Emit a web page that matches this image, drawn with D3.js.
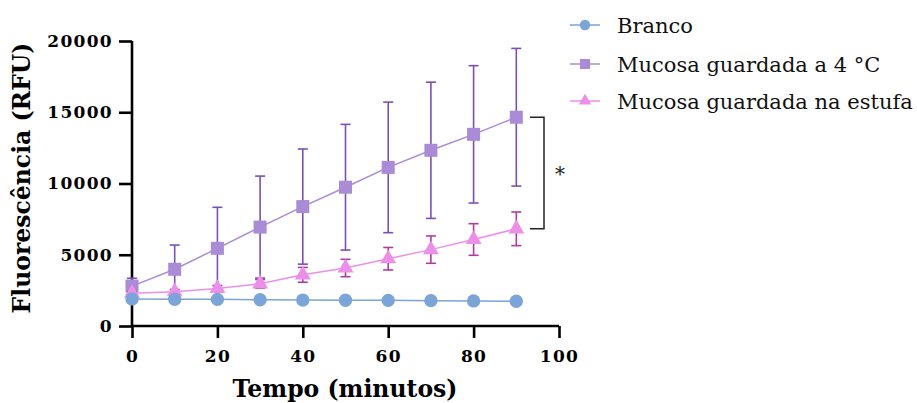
<!DOCTYPE html>
<html>
<head>
<meta charset="utf-8">
<script src="https://cdn.jsdelivr.net/npm/d3@7"></script>
<style>
  html, body { margin: 0; padding: 0; background: #fff; }
  svg { display: block; }
</style>
</head>
<body>
<svg id="chart" width="917" height="403"></svg>
<script>
const times = [0, 10, 20, 30, 40, 50, 60, 70, 80, 90];
const brancoMean = [1900, 1880, 1870, 1840, 1820, 1810, 1800, 1780, 1760, 1740];
const brancoSD   = [40, 40, 40, 40, 40, 40, 40, 40, 40, 40];
const frioMean = [2800, 3980, 5450, 6940, 8380, 9740, 11130, 12330, 13450, 14650];
const frioSD   = [550, 1700, 2880, 3580, 4040, 4410, 4580, 4780, 4820, 4830];
const estufaMean = [2300, 2410, 2640, 2960, 3590, 4070, 4720, 5360, 6070, 6820];
const estufaSD   = [100, 150, 200, 300, 520, 610, 790, 960, 1110, 1180];
const seriesNames = ["Branco", "Mucosa guardada a 4 °C", "Mucosa guardada na estufa"];
const xTicks = [0, 20, 40, 60, 80, 100];
const yTicks = [0, 5000, 10000, 15000, 20000];
const xTitle = "Tempo (minutos)";
const yTitle = "Fluorescência (RFU)";
const sigLabel = "*";

const svg = d3.select("#chart");
const x = d3.scaleLinear().domain([0, 100]).range([132, 559]);
const y = d3.scaleLinear().domain([0, 20000]).range([326, 41]);
const serif = "'DejaVu Serif', 'Liberation Serif', serif";

const series = [
  {name: seriesNames[1], mean: frioMean, sd: frioSD, fill: "#a98bd6", line: "#a98bd6", err: "#7a50b8", shape: d3.symbolSquare, size: 170},
  {name: seriesNames[2], mean: estufaMean, sd: estufaSD, fill: "#ec8fe8", line: "#ec8fe8", err: "#b03c9e", shape: d3.symbolTriangle, size: 110},
  {name: seriesNames[0], mean: brancoMean, sd: brancoSD, fill: "#7ba4d8", line: "#7ba4d8", err: "#7ba4d8", shape: d3.symbolCircle, size: 140, noErr: true}
];

// Axes
const xAxis = svg.append("g").attr("transform", `translate(0,${y(0)})`)
  .call(d3.axisBottom(x).tickValues(xTicks).tickSize(12).tickPadding(12).tickFormat(d3.format("d")));
const yAxis = svg.append("g").attr("transform", `translate(${x(0)},0)`)
  .call(d3.axisLeft(y).tickValues(yTicks).tickSize(13).tickPadding(6).tickFormat(d3.format("d")));
[xAxis, yAxis].forEach(g => {
  g.select(".domain").attr("stroke", "#000").attr("stroke-width", 2.6);
  g.selectAll(".tick line").attr("stroke", "#000").attr("stroke-width", 2.6);
  g.selectAll(".tick text").attr("fill", "#000").attr("font-family", serif)
    .attr("font-weight", "bold").attr("font-size", 17).attr("letter-spacing", "1.3px");
});
xAxis.select(".domain").attr("d", `M${x(0)},0H${x(100)}`);
yAxis.select(".domain").attr("d", `M0,${y(0)}V${y(20000)}`);

// Titles
svg.append("text").attr("x", 345).attr("y", 397).attr("text-anchor", "middle")
  .attr("font-family", serif).attr("font-weight", "bold").attr("font-size", 23.5).attr("fill", "#000")
  .text(xTitle);
svg.append("text").attr("transform", "translate(30,178) rotate(-90)").attr("text-anchor", "middle")
  .attr("font-family", serif).attr("font-weight", "bold").attr("font-size", 23.5).attr("fill", "#000")
  .text(yTitle);

// Series
const lineGen = d3.line().x((d, i) => x(times[i])).y(d => y(d));
series.forEach(s => {
  const g = svg.append("g");
  if (!s.noErr) {
    times.forEach((t, i) => {
      const cx = x(t), y1 = y(s.mean[i] + s.sd[i]), y2 = y(s.mean[i] - s.sd[i]);
      g.append("line").attr("x1", cx).attr("x2", cx).attr("y1", y1).attr("y2", y2)
        .attr("stroke", s.err).attr("stroke-width", 1.6);
      [y1, y2].forEach(yy => g.append("line").attr("x1", cx - 5).attr("x2", cx + 5)
        .attr("y1", yy).attr("y2", yy).attr("stroke", s.err).attr("stroke-width", 1.6));
    });
  }
  g.append("path").attr("d", lineGen(s.mean)).attr("fill", "none")
    .attr("stroke", s.line).attr("stroke-width", 1.5);
  times.forEach((t, i) => {
    g.append("path").attr("d", d3.symbol().type(s.shape).size(s.size)())
      .attr("transform", `translate(${x(t)},${y(s.mean[i])})`).attr("fill", s.fill);
  });
});

// Significance bracket
const last = times.length - 1;
const bx = 544, by1 = y(frioMean[last]), by2 = y(estufaMean[last]);
svg.append("path").attr("d", `M${bx - 14},${by1}H${bx}V${by2}H${bx - 14}`)
  .attr("fill", "none").attr("stroke", "#222").attr("stroke-width", 1.5);
svg.append("text").attr("x", 560).attr("y", (by1 + by2) / 2 + 8).attr("text-anchor", "middle")
  .attr("font-family", serif).attr("font-size", 20).attr("fill", "#222").text(sigLabel);

// Legend
const legendOrder = [series[2], series[0], series[1]];
const ly = [25, 64, 101];
legendOrder.forEach((s, i) => {
  const g = svg.append("g").attr("transform", `translate(0,${ly[i]})`);
  g.append("line").attr("x1", 570).attr("x2", 600).attr("y1", 0).attr("y2", 0)
    .attr("stroke", s.line).attr("stroke-width", 1.5);
  g.append("path").attr("d", d3.symbol().type(s.shape).size(s.size * 0.6)())
    .attr("transform", "translate(585,0)").attr("fill", s.fill);
  g.append("text").attr("x", 617).attr("y", 8).attr("font-family", serif)
    .attr("font-size", 21).attr("fill", "#111").text(s.name);
});
</script>
</body>
</html>
